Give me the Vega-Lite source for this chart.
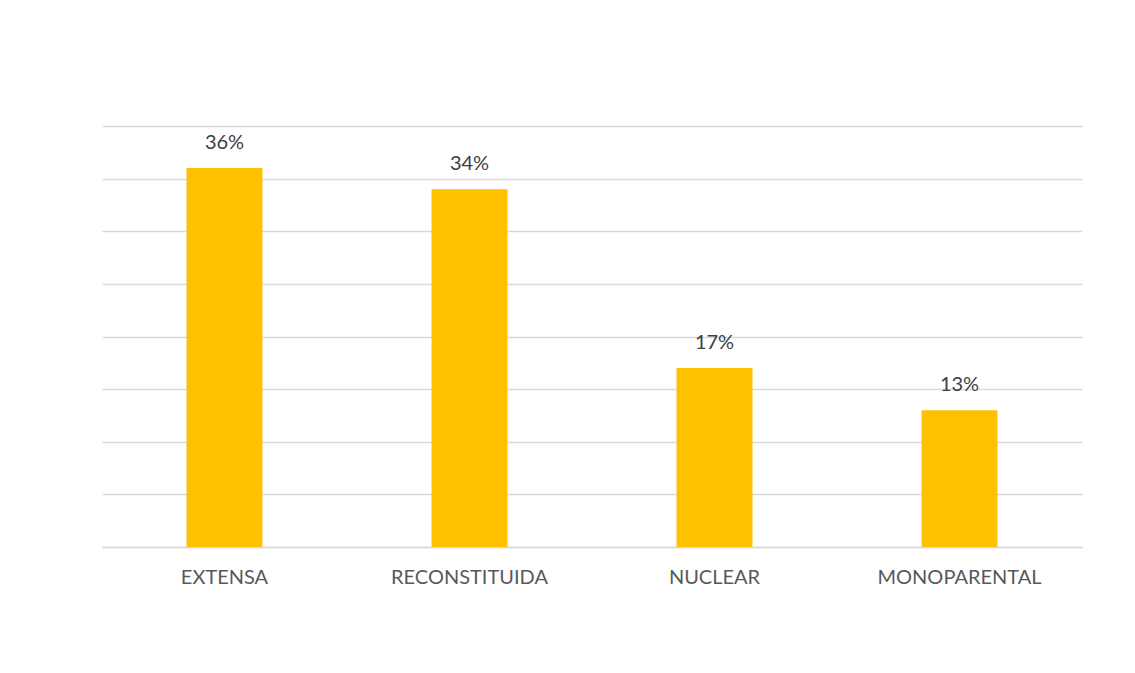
{
  "$schema": "https://vega.github.io/schema/vega-lite/v6.json",
  "width": 980,
  "height": 421,
  "autosize": {"type": "none"},
  "padding": {"left": 102, "top": 126, "right": 53, "bottom": 126},
  "background": "#ffffff",
  "config": {
    "view": {"stroke": null},
    "font": "Lato"
  },
  "data": {
    "values": [
      {"tipo": "EXTENSA", "valor": 0.36},
      {"tipo": "RECONSTITUIDA", "valor": 0.34},
      {"tipo": "NUCLEAR", "valor": 0.17},
      {"tipo": "MONOPARENTAL", "valor": 0.13}
    ]
  },
  "encoding": {
    "x": {
      "field": "tipo",
      "type": "nominal",
      "sort": null,
      "scale": {"paddingInner": 0.69, "paddingOuter": 0.345},
      "axis": {
        "title": null,
        "labelAngle": 0,
        "labelFontSize": 20,
        "labelColor": "#595959",
        "labelPadding": 20,
        "ticks": false,
        "domainColor": "#d9d9d9",
        "domainWidth": 1.5
      }
    },
    "y": {
      "field": "valor",
      "type": "quantitative",
      "scale": {"domain": [0, 0.4]},
      "axis": {
        "title": null,
        "labels": false,
        "ticks": false,
        "domain": false,
        "values": [0, 0.05, 0.1, 0.15, 0.2, 0.25, 0.3, 0.35, 0.4],
        "gridColor": "#d9d9d9",
        "gridWidth": 1.5
      }
    }
  },
  "layer": [
    {"mark": {"type": "bar", "color": "#ffc000"}},
    {
      "mark": {"type": "text", "baseline": "middle", "dy": -25, "fontSize": 20, "color": "#404040"},
      "encoding": {"text": {"field": "valor", "type": "quantitative", "format": ".0%"}}
    }
  ]
}
